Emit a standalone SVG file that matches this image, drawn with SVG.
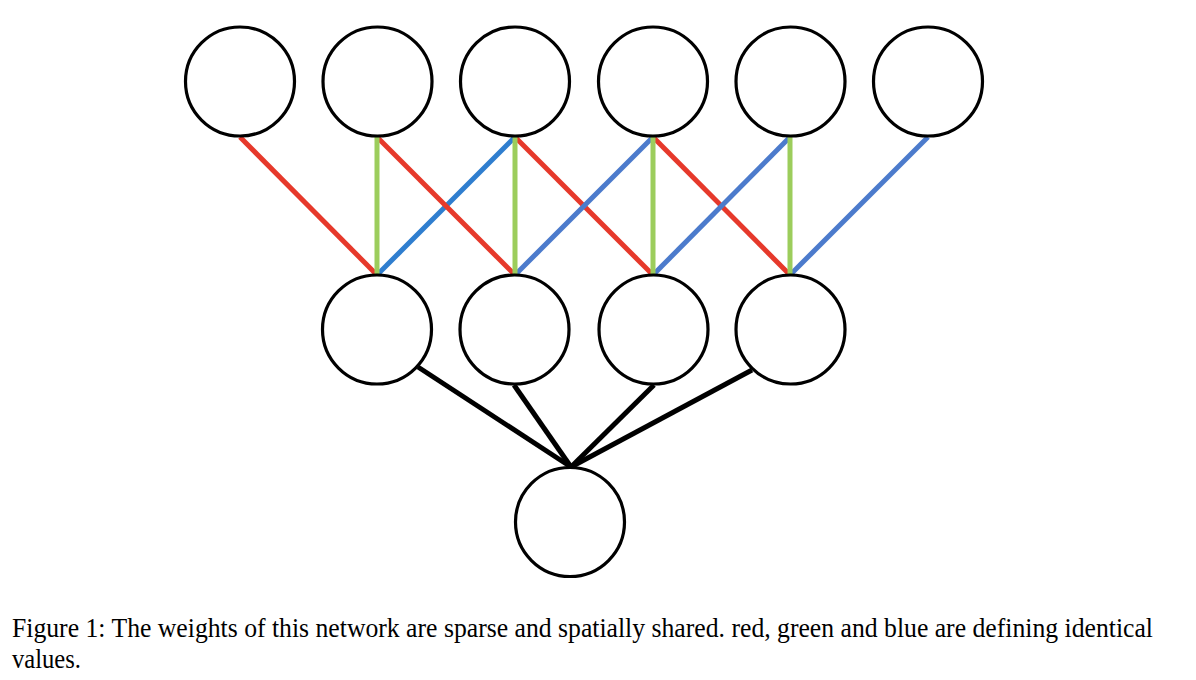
<svg xmlns="http://www.w3.org/2000/svg" width="1196" height="680" viewBox="0 0 1196 680">
<style>
.node{fill:#ffffff;stroke:#000000;stroke-width:3.2}
.e{stroke-width:5;stroke-linecap:butt;fill:none}
.r{stroke:#e6392b}
.g{stroke:#9ccd5c}
.b1{stroke:#2f7ecf}
.b{stroke:#4c7bcc}
.k{stroke:#000000;stroke-width:5}
.cap{font-family:"Liberation Serif","Times New Roman",serif;font-size:24.6px;fill:#000000}
</style>
<rect width="1196" height="680" fill="#ffffff"/>
<g id="connectors">
<line class="e b1" x1="515" y1="137" x2="377" y2="275"/>
<line class="e r" x1="240" y1="137" x2="377" y2="275"/>
<line class="e r" x1="377" y1="137" x2="515" y2="275"/>
<line class="e r" x1="515" y1="137" x2="653" y2="275"/>
<line class="e r" x1="653" y1="137" x2="790" y2="275"/>
<line class="e b" x1="653" y1="137" x2="515" y2="275"/>
<line class="e b" x1="790" y1="137" x2="653" y2="275"/>
<line class="e b" x1="928" y1="137" x2="790" y2="275"/>
<line class="e g" x1="377" y1="137" x2="377" y2="275"/>
<line class="e g" x1="515" y1="137" x2="515" y2="275"/>
<line class="e g" x1="653" y1="137" x2="653" y2="275"/>
<line class="e g" x1="790" y1="137" x2="790" y2="275"/>
<line class="e k" x1="418" y1="367" x2="571" y2="467"/>
<line class="e k" x1="514" y1="385" x2="571" y2="467"/>
<line class="e k" x1="654" y1="385" x2="571" y2="467"/>
<line class="e k" x1="752" y1="370" x2="571" y2="467"/>
</g>
<g id="in1"><circle class="node" cx="240" cy="81.5" r="54.5"/></g>
<g id="in2"><circle class="node" cx="377.5" cy="81.5" r="54.5"/></g>
<g id="in3"><circle class="node" cx="515" cy="81.5" r="54.5"/></g>
<g id="in4"><circle class="node" cx="653" cy="81.5" r="54.5"/></g>
<g id="in5"><circle class="node" cx="790.5" cy="81.5" r="54.5"/></g>
<g id="in6"><circle class="node" cx="928" cy="81.5" r="54.5"/></g>
<g id="h1"><circle class="node" cx="377" cy="329.5" r="54.5"/></g>
<g id="h2"><circle class="node" cx="514.5" cy="329.5" r="54.5"/></g>
<g id="h3"><circle class="node" cx="653.5" cy="329.5" r="54.5"/></g>
<g id="h4"><circle class="node" cx="790.5" cy="329.5" r="54.5"/></g>
<g id="out"><circle class="node" cx="570" cy="522" r="54.5"/></g>
<g id="caption">
<text class="cap" x="12" y="637" textLength="1141" lengthAdjust="spacingAndGlyphs" transform="translate(0,637) scale(1,1.12) translate(0,-637)">Figure 1: The weights of this network are sparse and spatially shared. red, green and blue are defining identical</text>
<text class="cap" x="12" y="668" transform="translate(0,668) scale(1,1.12) translate(0,-668)">values.</text>
</g>
</svg>
